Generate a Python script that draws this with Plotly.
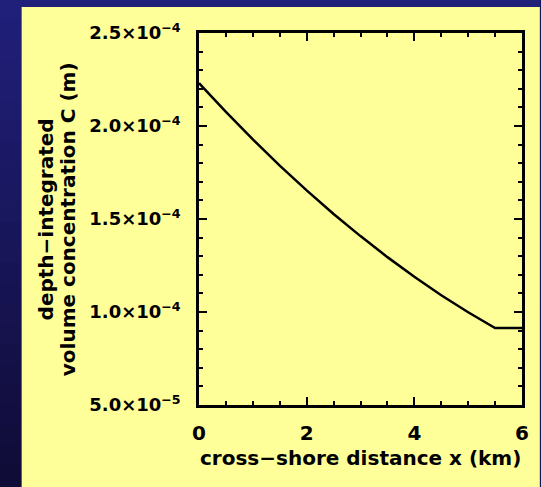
import plotly.graph_objects as go

# data
x_km = [0, 0.5, 1, 1.5, 2, 2.5, 3, 3.5, 4, 4.5, 5, 5.5, 6]
conc = [2.23e-4, 2.076e-4, 1.928e-4, 1.787e-4, 1.654e-4, 1.527e-4, 1.408e-4,
        1.295e-4, 1.189e-4, 1.090e-4, 0.9985e-4, 0.914e-4, 0.914e-4]

y_tickvals = [5e-5, 1e-4, 1.5e-4, 2e-4, 2.5e-4]
y_ticktext = ["5.0×10<sup>−5</sup>", "1.0×10<sup>−4</sup>", "1.5×10<sup>−4</sup>",
              "2.0×10<sup>−4</sup>", "2.5×10<sup>−4</sup>"]
x_tickvals = [0, 2, 4, 6]
x_ticktext = ["0", "2", "4", "6"]

W, H = 541, 487
L, R, T, B = 199, 16, 33, 82
pw, ph = W - L - R, H - T - B

def px_x(p):
    return (p - L) / pw

def px_y(p):
    return (H - B - p) / ph

FONT = dict(family="DejaVu Sans, sans-serif", color="black", size=20, weight="bold")
YTICKFONT = dict(family="DejaVu Sans, sans-serif", color="black", size=18, weight="bold")

fig = go.Figure()
fig.add_trace(go.Scatter(x=x_km, y=conc, mode="lines",
                         line=dict(color="black", width=2.5), showlegend=False))

shapes = []
# gradient blue background
n = 24
top = (32, 31, 122)
bot = (16, 12, 56)
for i in range(n):
    f = i / (n - 1)
    c = tuple(int(round(top[k] + (bot[k] - top[k]) * f)) for k in range(3))
    shapes.append(dict(type="rect", xref="paper", yref="paper", layer="below",
                       x0=px_x(-2), x1=px_x(W + 2),
                       y0=px_y(H * (i + 1) / n + 1), y1=px_y(H * i / n - 1),
                       fillcolor="rgb(%d,%d,%d)" % c, line=dict(width=0)))
# yellow panel
shapes.append(dict(type="rect", xref="paper", yref="paper", layer="below",
                   x0=px_x(20), x1=px_x(W + 2), y0=px_y(H + 2), y1=px_y(7),
                   fillcolor="#ffff99", line=dict(width=0)))

axis_common = dict(showgrid=False, zeroline=False, showline=True, linecolor="black",
                   linewidth=2.5, mirror="allticks", ticks="inside", ticklen=8,
                   tickwidth=2, tickcolor="black")

fig.update_layout(
    width=W, height=H,
    margin=dict(l=L, r=R, t=T, b=B),
    paper_bgcolor="rgb(24,22,90)",
    plot_bgcolor="#ffff99",
    shapes=shapes,
    xaxis=dict(range=[0, 6], tickvals=x_tickvals, ticktext=x_ticktext, tickfont=FONT,
               minor=dict(dtick=0.5, ticks="inside", ticklen=4, tickwidth=2, tickcolor="black"),
               ticklabelstandoff=8, **axis_common),
    yaxis=dict(range=[5e-5, 2.5e-4], tickvals=y_tickvals, ticktext=y_ticktext, tickfont=YTICKFONT,
               minor=dict(tickvals=[v * 1e-5 for v in range(5, 26)], ticks="inside",
                          ticklen=4, tickwidth=2, tickcolor="black"),
               ticklabelstandoff=12, **axis_common),
    annotations=[
        dict(text="cross−shore distance x (km)", xref="paper", yref="paper",
             x=0.5, y=px_y(458), xanchor="center", yanchor="middle",
             showarrow=False, font=FONT),
        dict(text="depth−integrated", xref="paper", yref="paper",
             x=px_x(45), y=0.5, xanchor="center", yanchor="middle", textangle=-90,
             showarrow=False, font=FONT),
        dict(text="volume concentration C (m)", xref="paper", yref="paper",
             x=px_x(67), y=0.5, xanchor="center", yanchor="middle", textangle=-90,
             showarrow=False, font=FONT),
    ],
)

fig.write_html("out.html")
